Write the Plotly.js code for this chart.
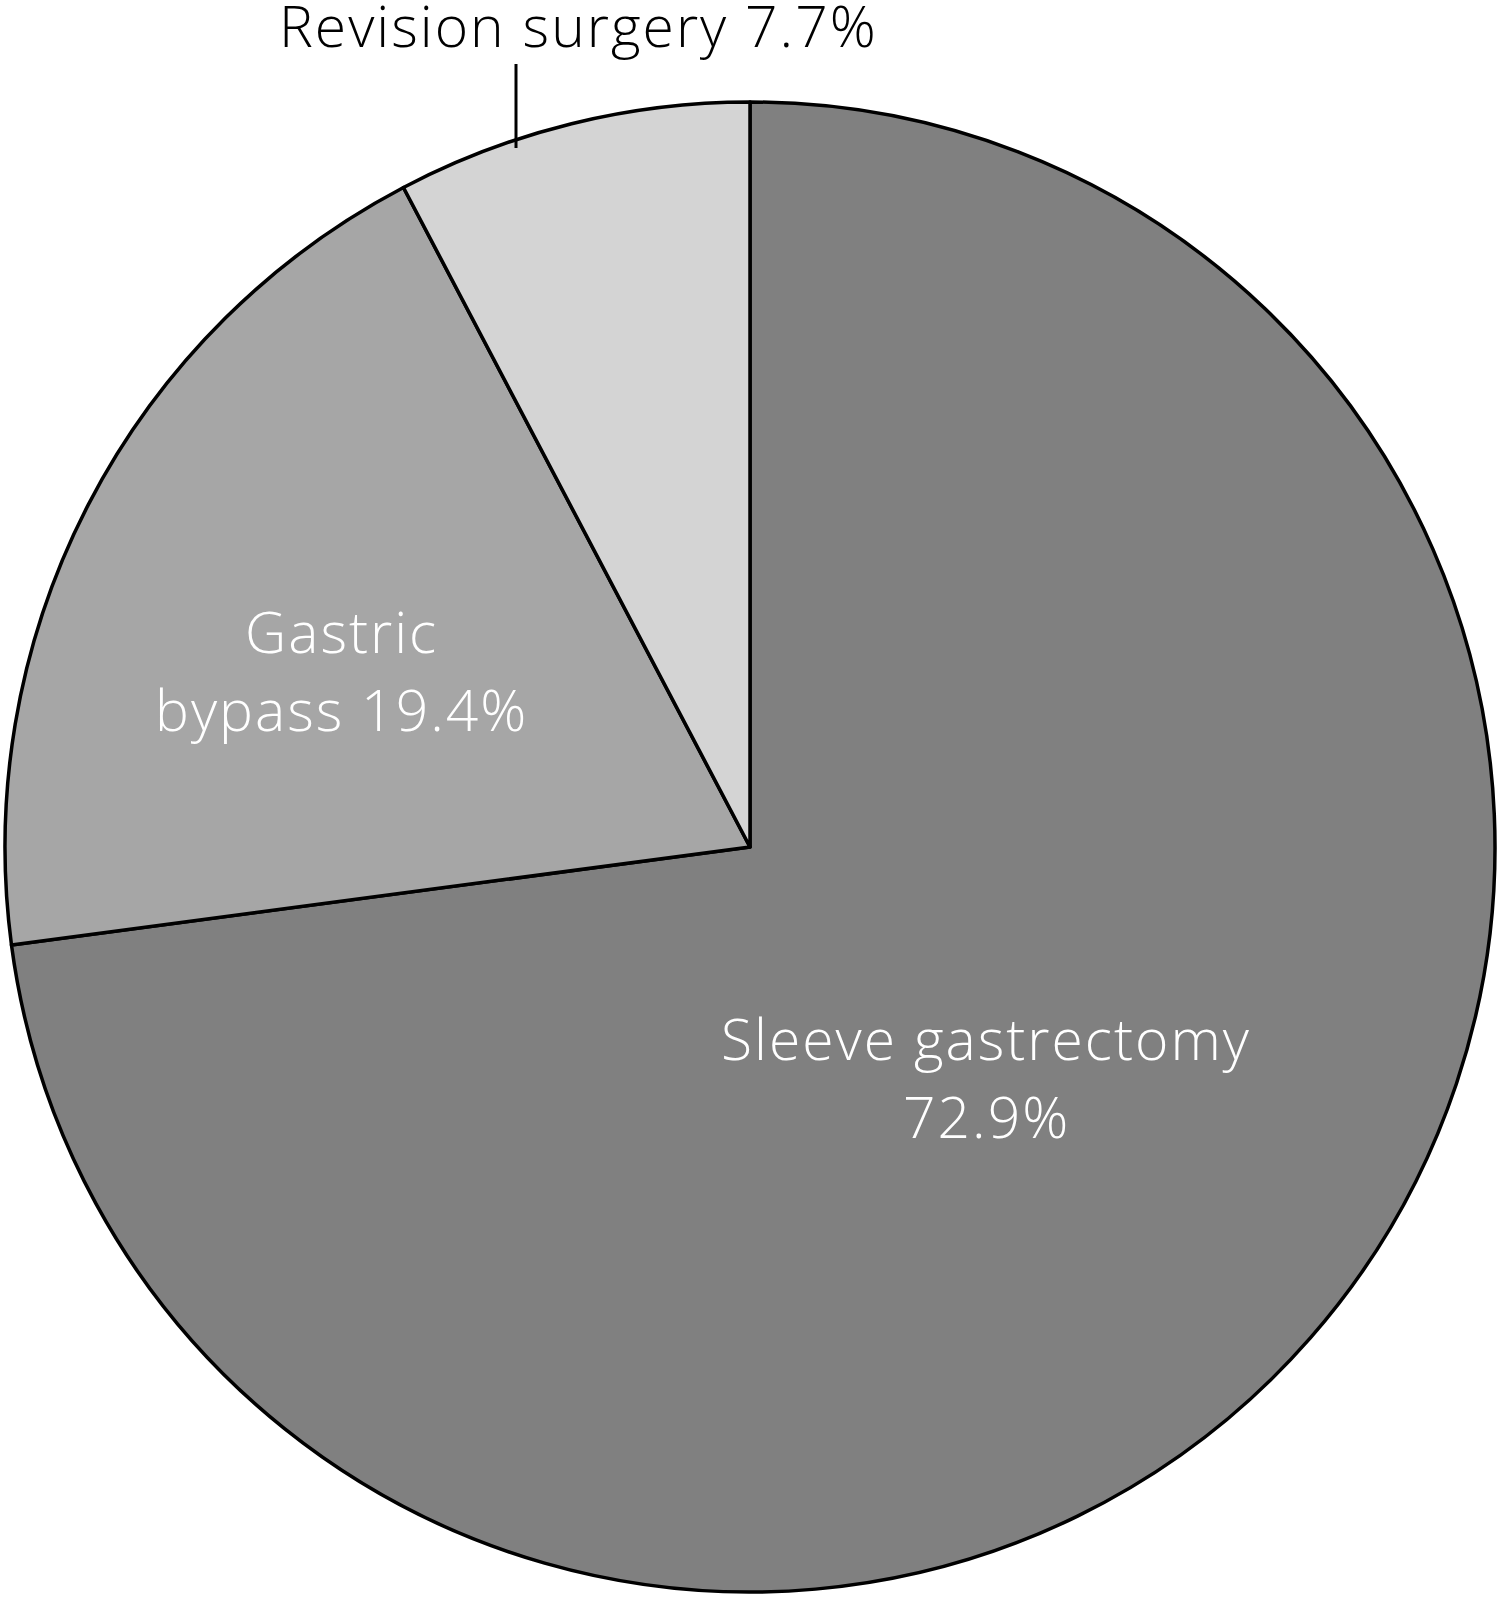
<!DOCTYPE html>
<html>
<head>
<meta charset="utf-8">
<script src="https://cdn.plot.ly/plotly-3.0.1.min.js"></script>
<style>
html,body{margin:0;padding:0;background:#fff;}
#chart{width:1500px;height:1598px;}
#chart .annotation-text{letter-spacing:2px;}
</style>
</head>
<body>
<div id="chart"></div>
<script>
// Data
const categories = ['Sleeve gastrectomy', 'Gastric bypass', 'Revision surgery'];
const shares = [72.9, 19.4, 7.7];
const sliceColors = ['#808080', '#a6a6a6', '#d4d4d4'];
// Label line breaks (display text)
const labelLines = [
  ['Sleeve gastrectomy', '72.9%'],
  ['Gastric', 'bypass 19.4%'],
  ['Revision surgery 7.7%']
];

const W = 1500, H = 1598;
const px = x => x / W;
const py = y => 1 - y / H;

const FONT = 'Open Sans, Lato, sans-serif';

const trace = {
  type: 'pie',
  labels: categories,
  values: shares,
  sort: false,
  direction: 'clockwise',
  rotation: 0,
  textinfo: 'none',
  hoverinfo: 'label+percent',
  marker: { colors: sliceColors, line: { color: '#000', width: 3.5 } },
  domain: { x: [px(5), px(1495)], y: [py(1592), py(102)] },
  showlegend: false,
  automargin: false
};

// label placement (centers, pixel coords)
const labelPos = [
  { x: 986, y: [1038, 1116], color: '#fff' },
  { x: 341, y: [631, 709], color: '#fff' },
  { x: 578, y: [25], color: '#000' }
];

const annotations = [];
labelLines.forEach((lines, i) => {
  lines.forEach((t, j) => {
    annotations.push({
      text: t, xref: 'paper', yref: 'paper',
      x: px(labelPos[i].x), y: py(labelPos[i].y[j]),
      xanchor: 'center', yanchor: 'middle', showarrow: false,
      font: { family: FONT, size: 57, weight: 300, color: labelPos[i].color }
    });
  });
});

const layout = {
  width: W, height: H,
  margin: { l: 0, r: 0, t: 0, b: 0 },
  paper_bgcolor: '#fff',
  annotations: annotations,
  shapes: [{
    type: 'line', xref: 'paper', yref: 'paper',
    x0: px(516), x1: px(516), y0: py(64), y1: py(148),
    line: { color: '#000', width: 3 }
  }]
};

Plotly.newPlot('chart', [trace], layout, { displayModeBar: false });
</script>
</body>
</html>
